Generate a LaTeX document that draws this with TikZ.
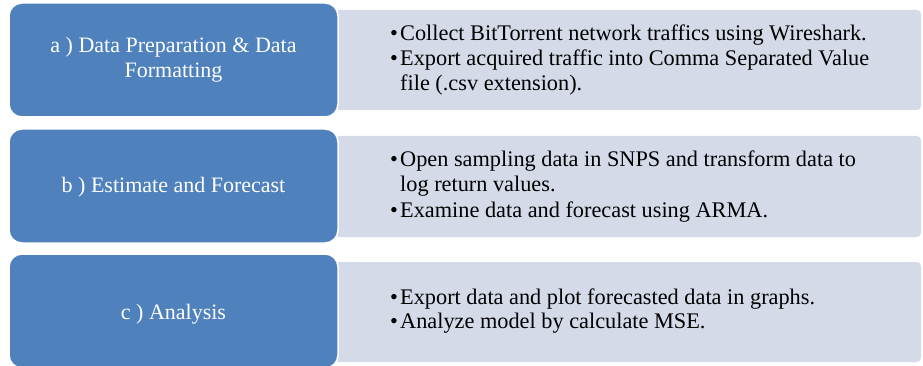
\documentclass[tikz,border=0pt]{standalone}
\usepackage{fontspec}
\setmainfont{Liberation Serif}
\definecolor{stageblue}{RGB}{79,129,189}
\definecolor{detailgrey}{RGB}{212,218,232}
\newcommand{\bul}{\makebox[10pt][l]{•}}
\newcommand{\hang}{\hspace*{10pt}}
\begin{document}
\begin{tikzpicture}[x=1pt,y=-1pt,
  stagebox/.style={draw=white,line width=1.5pt,fill=stageblue,rounded corners=13pt},
  detailbox/.style={fill=detailgrey,rounded corners=4pt},
  stagetext/.style={text=white,anchor=base,font=\fontsize{22}{25}\selectfont,inner sep=0pt},
  detailtext/.style={text=black,anchor=base west,font=\fontsize{22.3}{25}\selectfont,inner sep=0pt}]
\useasboundingbox (0,0) rectangle (923,366);

% detail panels (behind the stage boxes)
\path[detailbox] (335,10) rectangle (921,110);
\path[detailbox] (335,136) rectangle (921,237);
\path[detailbox] (335,262) rectangle (921,362);

% stage boxes
\path[stagebox] (9,3) rectangle (338,117);
\path[stagebox] (9,129) rectangle (338,243);
\path[stagebox] (9,254) rectangle (338,368);

% stage titles
\node[stagetext] (sa1) at (173.5,53) {a ) Data Preparation \& Data};
\node[stagetext] (sa2) at (173.5,78) {Formatting};
\node[stagetext] (sb) at (173.5,193) {b ) Estimate and Forecast};
\node[stagetext] (sc) at (173.5,319) {c ) Analysis};

% detail bullets
\node[detailtext] (da1) at (390,41) {\bul Collect BitTorrent network traffics using Wireshark.};
\node[detailtext] (da2) at (390,66) {\bul Export acquired traffic into Comma Separated Value};
\node[detailtext] (da3) at (390,91) {\hang file (.csv extension).};

\node[detailtext] (db1) at (390,167) {\bul Open sampling data in SNPS and transform data to};
\node[detailtext] (db2) at (390,192) {\hang log return values.};
\node[detailtext] (db3) at (390,217) {\bul Examine data and forecast using ARMA.};

\node[detailtext] (dc1) at (390,304) {\bul Export data and plot forecasted data in graphs.};
\node[detailtext] (dc2) at (390,328) {\bul Analyze model by calculate MSE.};
\end{tikzpicture}
\end{document}
